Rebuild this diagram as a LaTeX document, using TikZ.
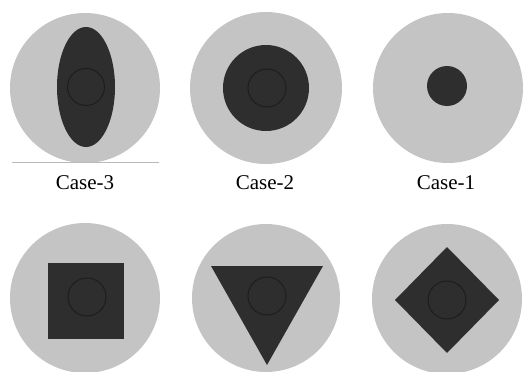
\documentclass[tikz,border=0pt]{standalone}
\usepackage{fontspec}
\setmainfont{Liberation Serif}
\definecolor{discgray}{HTML}{C4C4C4}
\definecolor{corefill}{HTML}{2E2E2E}
\definecolor{ringline}{HTML}{1C1C1C}

\begin{document}
\begin{tikzpicture}[x=1pt, y=-1pt,
  disc/.style={fill=discgray},
  core/.style={fill=corefill},
  ring/.style={draw=ringline, line width=0.9pt},
  every node/.style={font=\fontsize{21}{24}\selectfont, anchor=base}]
 \useasboundingbox (0,0) rectangle (523,372);
 % top row
 \fill[disc] (85,88) circle (75);
 \fill[core] (86,87) ellipse [x radius=29, y radius=60];
 \draw[ring] (86,87) circle (18.5);
 \draw[gray!55, line width=1pt] (12,162.5) -- (159,162.5);
 \fill[disc] (266,88) circle (76);
 \fill[core] (266,88) circle (43);
 \draw[ring] (267,88) circle (19);
 \fill[disc] (448,88) circle (75);
 \fill[core] (447,86) circle (20);
 \node (c3) at (85,189) {Case-3};
 \node (c2) at (265,189) {Case-2};
 \node (c1) at (446,189) {Case-1};
 % bottom row
 \fill[disc] (85,298) circle (75);
 \fill[core] (48,263) rectangle (124,339);
 \draw[ring] (87,297) circle (19);
 \fill[disc] (266,298) circle (74);
 \fill[core] (211,266) -- (323,266) -- (267,365) -- cycle;
 \draw[ring] (267,296) circle (19);
 \fill[disc] (447,299) circle (75);
 \fill[core] (395,300) -- (447,247) -- (499,300) -- (447,353) -- cycle;
 \draw[ring] (447,300) circle (19);
\end{tikzpicture}
\end{document}
